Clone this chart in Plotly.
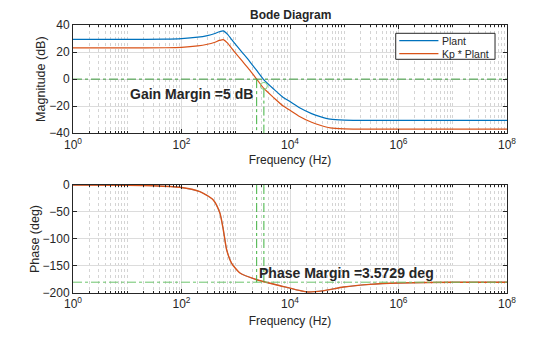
import math
import plotly.graph_objects as go

# ---------------- data ----------------
freq_mag = [1, 10, 50, 100, 200, 300, 400, 500, 590, 700, 900, 1300, 1800, 2430,
            3300, 5000, 7500, 1e4, 1.5e4, 2.5e4, 3.6e4, 5.5e4, 1e5, 1e6, 1e7, 1e8]
mag_plant = [29.4, 29.4, 29.5, 29.9, 31.0, 32.2, 33.5, 35.0, 35.6, 33.2, 27.7, 20.0, 13.2, 6.4,
             -0.5, -7.3, -13.5, -16.6, -21.2, -25.5, -27.7, -29.6, -30.3, -30.5, -30.5, -30.5]
mag_kp_plant = [23.1, 23.1, 23.2, 23.5, 24.6, 25.8, 27.1, 28.6, 29.2, 26.8, 21.3, 13.6, 6.8, 0.0,
                -6.9, -13.7, -19.9, -23.0, -27.6, -31.9, -34.1, -36.0, -36.7, -36.9, -36.9, -36.9]

freq_phase = [1, 10, 30, 93, 218, 385, 510, 590, 680, 835, 1195, 2430, 6540, 20300,
              40000, 97000, 3e5, 1e6, 1e7, 1e8]
phase_plant = [0, -0.4, -1.3, -4.3, -12.3, -27.7, -52, -83, -120, -144.6, -163, -175.4, -186.5, -198,
               -196, -189, -184, -181.5, -180.2, -180]
phase_kp_plant = list(phase_plant)

series_names = ["Plant", "Kp * Plant"]

gm_freqs = [2430, 3300]      # crossover frequencies used for the margin markers
gm_marker_db = -5
gm_text = "Gain Margin =5 dB"
pm_text = "Phase Margin =3.5729 deg"

x_tickvals = [1, 1e2, 1e4, 1e6, 1e8]
x_ticktext = ["10<sup>0</sup>", "10<sup>2</sup>", "10<sup>4</sup>", "10<sup>6</sup>", "10<sup>8</sup>"]
mag_ticks = [-40, -20, 0, 20, 40]
phase_ticks = [-200, -150, -100, -50, 0]

# ---------------- styling ----------------
BLUE = "#0072BD"
ORANGE = "#D95319"
GREEN_DARK = "#3a9a3a"
GREEN_V = "#3fb03f"
GREEN_LIGHT = "#6cc46c"
TXT = "#262626"
FONT = "Liberation Sans, Arial, sans-serif"

minor_vals = [k * 10 ** d for d in range(0, 8) for k in range(1, 10)
              if not (k == 1 and d % 2 == 0)]

fig = go.Figure()

# magnitude
fig.add_trace(go.Scatter(x=freq_mag, y=mag_plant, mode="lines", name=series_names[0],
                         line=dict(color=BLUE, width=1.2, shape="spline", smoothing=0.6),
                         xaxis="x", yaxis="y", showlegend=False))
fig.add_trace(go.Scatter(x=freq_mag, y=mag_kp_plant, mode="lines", name=series_names[1],
                         line=dict(color=ORANGE, width=1.2, shape="spline", smoothing=0.6),
                         xaxis="x", yaxis="y", showlegend=False))
# gain margin helpers
fig.add_trace(go.Scatter(x=[1, 1e8], y=[0, 0], mode="lines", showlegend=False,
                         line=dict(color=GREEN_DARK, width=1, dash="dashdot"),
                         xaxis="x", yaxis="y"))
fig.add_trace(go.Scatter(x=[gm_freqs[0], gm_freqs[0]], y=[0, -40], mode="lines", showlegend=False,
                         line=dict(color=GREEN_V, width=1, dash="dashdot"),
                         xaxis="x", yaxis="y"))
fig.add_trace(go.Scatter(x=[gm_freqs[1], gm_freqs[1]], y=[gm_marker_db - 2, -40], mode="lines",
                         showlegend=False, line=dict(color=GREEN_V, width=1, dash="dashdot"),
                         xaxis="x", yaxis="y"))
fig.add_trace(go.Scatter(x=[gm_freqs[1]], y=[gm_marker_db], mode="markers", showlegend=False,
                         marker=dict(symbol="circle-open", size=7, color="#7fd27f",
                                     line=dict(width=1)),
                         xaxis="x", yaxis="y"))

# phase
fig.add_trace(go.Scatter(x=freq_phase, y=phase_plant, mode="lines", showlegend=False,
                         line=dict(color=BLUE, width=0.6, shape="spline", smoothing=0.6),
                         xaxis="x2", yaxis="y2"))
fig.add_trace(go.Scatter(x=freq_phase, y=phase_kp_plant, mode="lines", showlegend=False,
                         line=dict(color=ORANGE, width=1.4, shape="spline", smoothing=0.6),
                         xaxis="x2", yaxis="y2"))
fig.add_trace(go.Scatter(x=[1, 1e8], y=[-180, -180], mode="lines", showlegend=False,
                         line=dict(color=GREEN_LIGHT, width=1, dash="dashdot"),
                         xaxis="x2", yaxis="y2"))
for f in gm_freqs:
    fig.add_trace(go.Scatter(x=[f, f], y=[0, -180], mode="lines", showlegend=False,
                             line=dict(color=GREEN_V, width=1, dash="dashdot"),
                             xaxis="x2", yaxis="y2"))

xcommon = dict(type="log", range=[0, 8], tickmode="array", tickvals=x_tickvals,
               ticktext=x_ticktext, ticks="inside", ticklen=4, tickcolor="#262626",
               showline=True, linecolor="#262626", linewidth=1, mirror="allticks",
               showgrid=True, gridcolor="#dcdcdc", gridwidth=1, zeroline=False,
               tickfont=dict(family=FONT, size=12, color=TXT),
               minor=dict(tickmode="array", tickvals=minor_vals, ticks="inside", ticklen=2,
                          tickcolor="#262626", showgrid=True, gridcolor="#d4d4d4",
                          griddash="dot", gridwidth=1))
ycommon = dict(ticks="inside", ticklen=4, tickcolor="#262626", showline=True,
               linecolor="#262626", linewidth=1, mirror="allticks", showgrid=True,
               gridcolor="#dcdcdc", gridwidth=1, zeroline=False,
               tickfont=dict(family=FONT, size=12, color=TXT))

fig.update_layout(
    width=560, height=337,
    margin=dict(l=73, r=53, t=25, b=44),
    paper_bgcolor="white", plot_bgcolor="white",
    font=dict(family=FONT, size=12, color=TXT),
    xaxis=dict(domain=[0, 1], anchor="y",
               title=dict(text="Frequency (Hz)", font=dict(size=12, color=TXT), standoff=4),
               **xcommon),
    yaxis=dict(domain=[0.596, 1], anchor="x", range=[-40, 40], tickvals=mag_ticks,
               title=dict(text="Magnitude (dB)", font=dict(size=12.5, color=TXT), standoff=0),
               **ycommon),
    xaxis2=dict(domain=[0, 1], anchor="y2",
                title=dict(text="Frequency (Hz)", font=dict(size=12, color=TXT), standoff=6),
                **xcommon),
    yaxis2=dict(domain=[0, 0.403], anchor="x2", range=[-200, 0], tickvals=phase_ticks,
                title=dict(text="Phase (deg)", font=dict(size=12.5, color=TXT), standoff=0),
                **ycommon),
    showlegend=False,
)

# legend box drawn in paper coordinates (MATLAB-style compact legend)
lx0, lx1, ly0, ly1 = 0.7436, 0.9724, 0.872, 0.969
fig.add_shape(type="rect", xref="paper", yref="paper", x0=lx0, x1=lx1, y0=ly0, y1=ly1,
              line=dict(color=TXT, width=1), fillcolor="white", layer="above")
for name, col, yy in [(series_names[0], BLUE, 0.9414), (series_names[1], ORANGE, 0.8929)]:
    fig.add_shape(type="line", xref="paper", yref="paper", x0=0.7518, x1=0.842, y0=yy, y1=yy,
                  line=dict(color=col, width=1.3), layer="above")
    fig.add_annotation(text=name, xref="paper", yref="paper", x=0.849, y=yy,
                       xanchor="left", yanchor="middle", showarrow=False, borderpad=0,
                       font=dict(family=FONT, size=10.5, color=TXT))

fig.add_annotation(text="<b>Bode Diagram</b>", xref="paper", yref="paper", x=0.5, y=1.0,
                   yshift=1, xanchor="center", yanchor="bottom", showarrow=False,
                   font=dict(family=FONT, size=12, color=TXT))
fig.add_annotation(text="<b>" + gm_text + "</b>", xref="x", yref="y",
                   x=math.log10(gm_freqs[0]), y=-11, xanchor="right", yanchor="middle",
                   xshift=-2, showarrow=False, font=dict(family=FONT, size=14, color=TXT))
fig.add_annotation(text="<b>" + pm_text + "</b>", xref="x2", yref="y2",
                   x=math.log10(gm_freqs[0]), y=-163, xanchor="left", yanchor="middle",
                   showarrow=False, font=dict(family=FONT, size=14, color=TXT))

fig.write_html("out.html")
